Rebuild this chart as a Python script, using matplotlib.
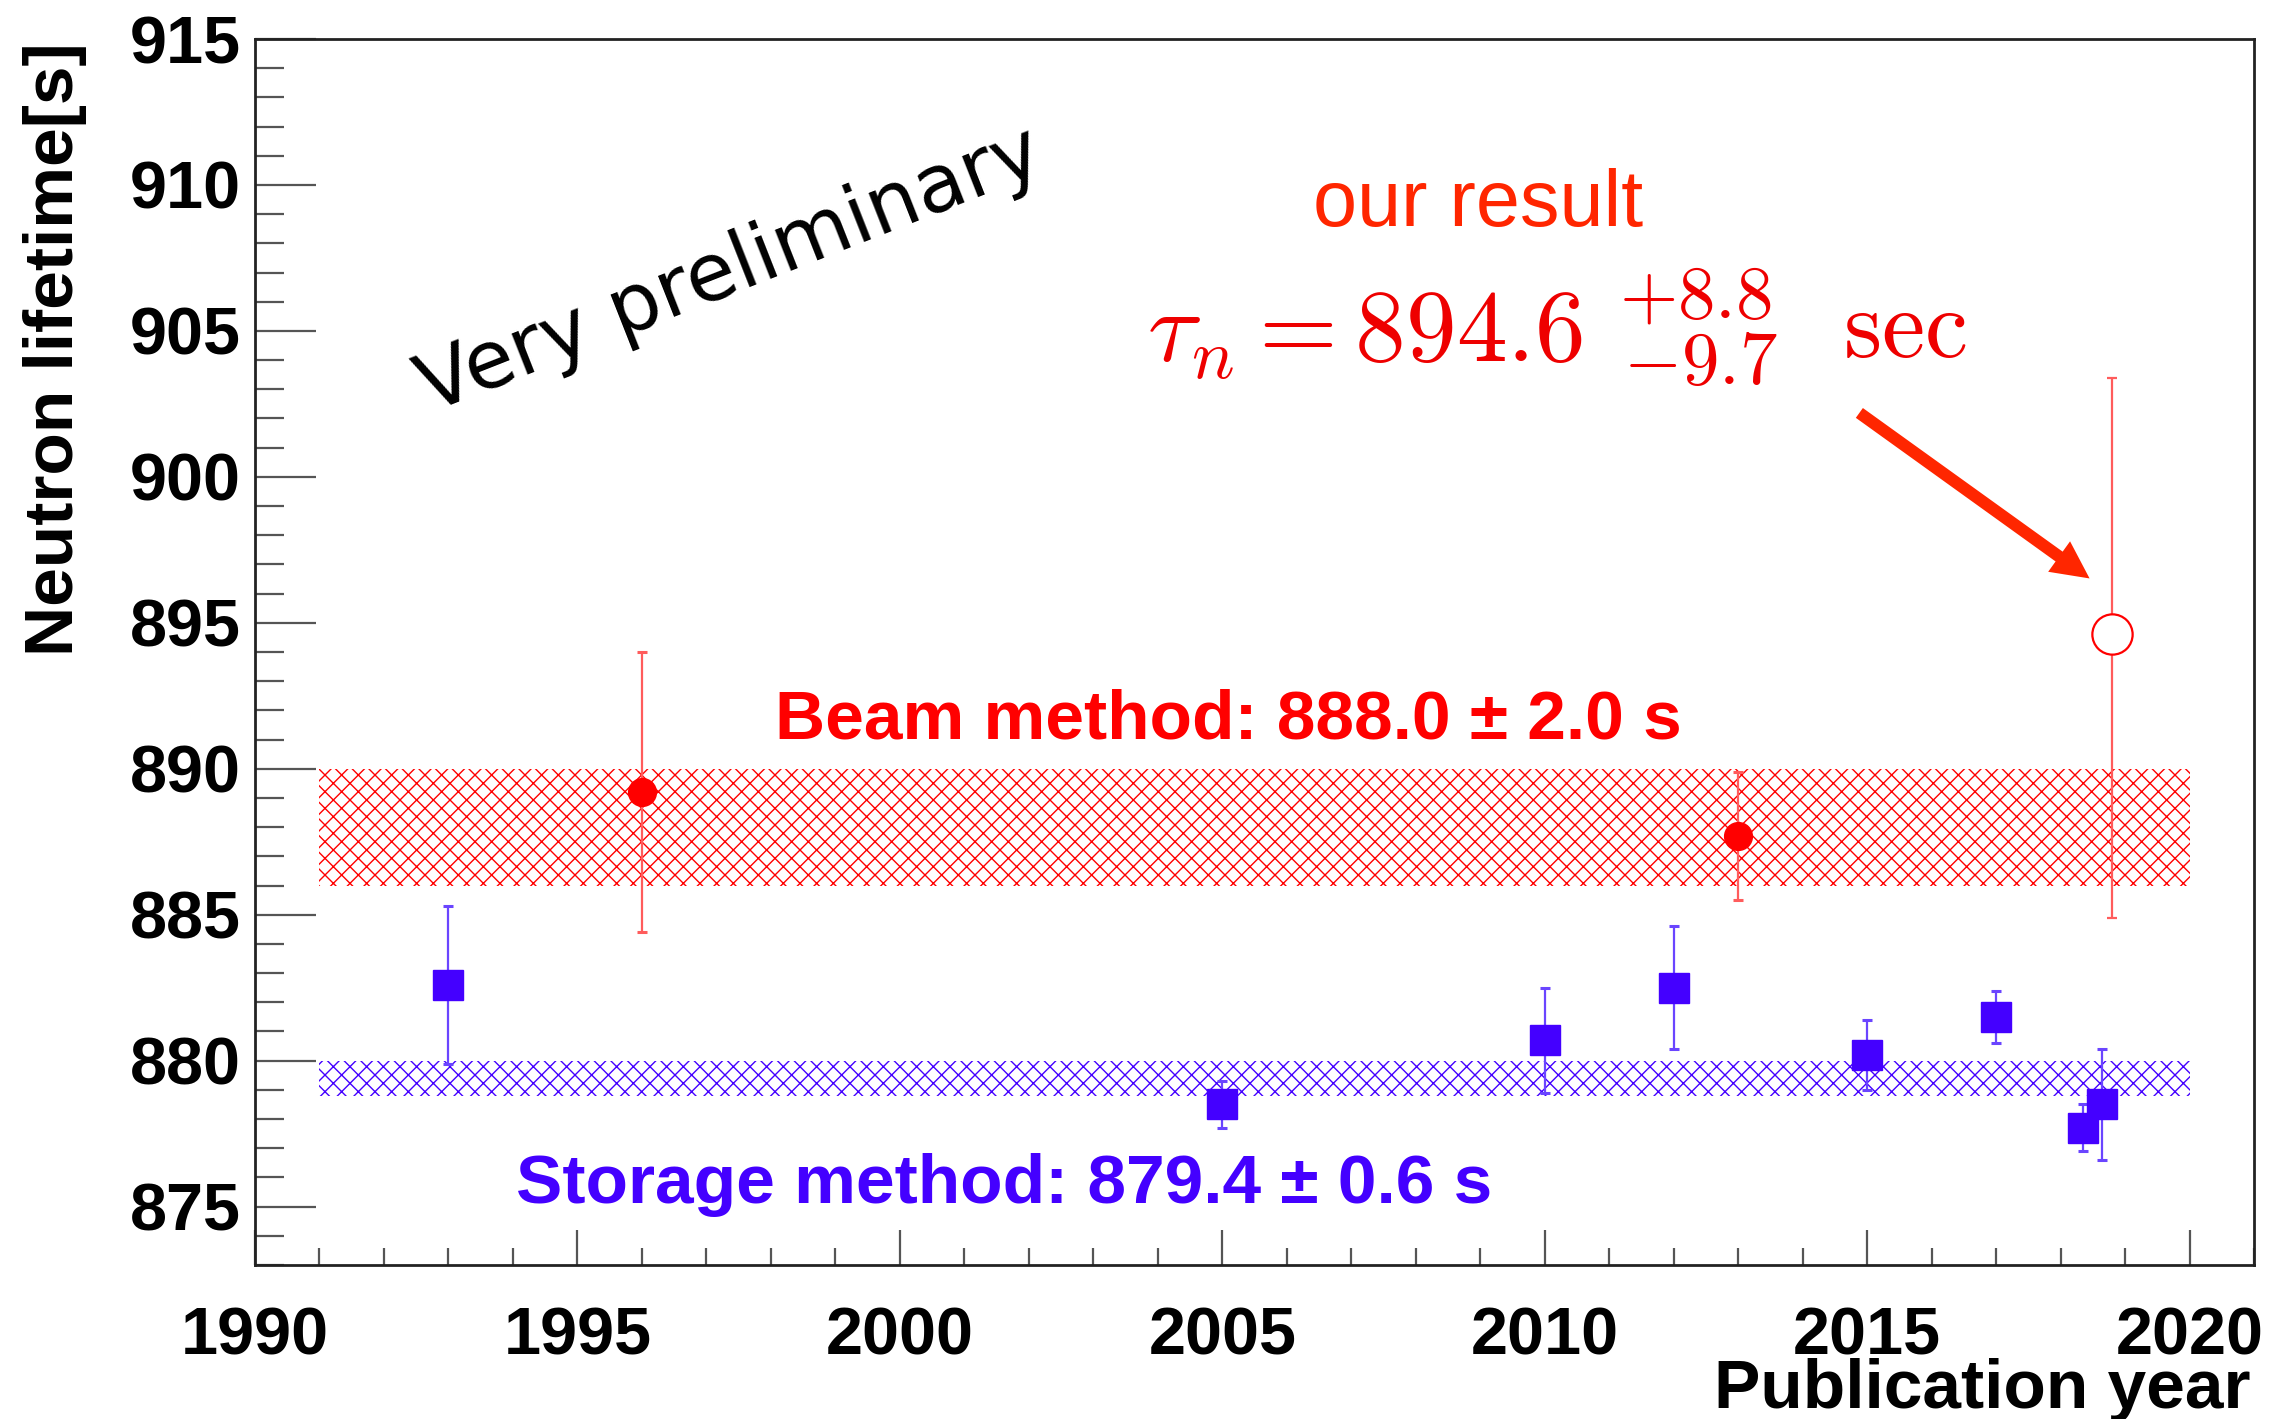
import matplotlib
matplotlib.use("Agg")
import matplotlib.pyplot as plt
from matplotlib.ticker import MultipleLocator

# storage method measurements
storage_year = [1993, 2005, 2010, 2012, 2015, 2017, 2018.35, 2018.65]
storage_tau = [882.6, 878.5, 880.7, 882.5, 880.2, 881.5, 877.7, 878.5]
storage_err = [2.7, 0.8, 1.8, 2.1, 1.2, 0.9, 0.8, 1.9]

# beam method measurements
beam_year = [1996, 2013]
beam_tau = [889.2, 887.7]
beam_err = [4.8, 2.2]

# this result
our_year = [2018.8]
our_tau = [894.6]
our_err_lo = [9.7]
our_err_hi = [8.8]

# world averages drawn as hatched bands
beam_avg, beam_avg_err = 888.0, 2.0
storage_avg, storage_avg_err = 879.4, 0.6
band_years = [1991, 2020]

RED = "#FF0000"
RED_ERR = "#FF5C5C"
BLUE = "#4400FF"
BLUE_ERR = "#6A45FF"
ORANGE = "#FF2600"
FORMULA = "#EE0000"
FONT = "Liberation Sans"

plt.rcParams["hatch.linewidth"] = 1.0
plt.rcParams["mathtext.fontset"] = "cm"

W, H = 2280, 1419
fig = plt.figure(figsize=(W / 100, H / 100), dpi=100)
ax = fig.add_axes([255 / W, 1 - 1265 / H, (2254 - 255) / W, (1265 - 39) / H])

# hatched bands
for avg, err, col in [(beam_avg, beam_avg_err, RED), (storage_avg, storage_avg_err, BLUE)]:
    ax.bar(band_years[0], 2 * err, width=band_years[1] - band_years[0], bottom=avg - err,
           align="edge", fill=False, hatch="xx", edgecolor=col, linewidth=0, zorder=1)

ax.errorbar(storage_year, storage_tau, yerr=storage_err, fmt="s", ms=21, mfc=BLUE, mec=BLUE,
            ecolor=BLUE_ERR, elinewidth=1.6, capsize=3.5, capthick=2.2, zorder=3)
ax.errorbar(beam_year, beam_tau, yerr=beam_err, fmt="o", ms=20, mfc=RED, mec=RED,
            ecolor=RED_ERR, elinewidth=1.6, capsize=3.5, capthick=2.2, zorder=3)
ax.errorbar(our_year, our_tau, yerr=[our_err_lo, our_err_hi], fmt="o", ms=29, mfc="white",
            mec=RED, mew=1.6, ecolor=RED_ERR, elinewidth=1.6, capsize=3.5, capthick=2.2, zorder=3)

ax.set_xlim(1990, 2021)
ax.set_ylim(873, 915)
ax.xaxis.set_major_locator(MultipleLocator(5))
ax.xaxis.set_minor_locator(MultipleLocator(1))
ax.yaxis.set_major_locator(MultipleLocator(5))
ax.yaxis.set_minor_locator(MultipleLocator(1))
ax.tick_params(which="both", direction="in", top=False, right=False, color="#555555", width=1.6)
ax.tick_params(axis="y", which="major", length=44, pad=10)
ax.tick_params(axis="y", which="minor", length=21)
ax.tick_params(axis="x", which="major", length=25, pad=30)
ax.tick_params(axis="x", which="minor", length=12)
for lab in ax.get_xticklabels() + ax.get_yticklabels():
    lab.set_fontfamily(FONT)
    lab.set_fontweight("bold")
    lab.set_fontsize(48)
for sp in ax.spines.values():
    sp.set_linewidth(2)
    sp.set_color("#222222")

# axis titles, ROOT style (aligned to the ends)
fig.text(55 / W, 1 - 42 / H, "Neutron lifetime[s]", rotation=90, ha="center", va="top",
         fontsize=50, fontweight="bold", family=FONT)
fig.text(2251 / W, 1 - 1408 / H, "Publication year", ha="right", va="baseline",
         fontsize=50, fontweight="bold", family=FONT)

# labels
ax.text(1998.07, 891.05, "Beam method: 888.0 \u00b1 2.0 s", color=RED, fontsize=50,
        fontweight="bold", family=FONT, ha="left", va="baseline")
ax.text(1994.04, 875.13, "Storage method: 879.4 \u00b1 0.6 s", color=BLUE, fontsize=50,
        fontweight="bold", family=FONT, ha="left", va="baseline")
ax.text(2006.41, 908.58, "our result", color=ORANGE, fontsize=57, family=FONT,
        ha="left", va="baseline")

# tau_n = 894.6 +8.8 -9.7 sec, pieced together
ax.text(2003.84, 903.96, r"$\tau_n = 894.6$", color=FORMULA, fontsize=73,
        ha="left", va="baseline")
ax.text(2011.16, 905.47, r"$+8.8$", color=FORMULA, fontsize=54, ha="left", va="baseline")
ax.text(2011.21, 903.18, r"$-9.7$", color=FORMULA, fontsize=54, ha="left", va="baseline")
ax.text(2014.63, 904.10, r"$\mathrm{sec}$", color=FORMULA, fontsize=70,
        ha="left", va="baseline")

fig.text(430 / W, 1 - 413 / H, "Very preliminary", rotation=21.5, rotation_mode="anchor",
         ha="left", va="baseline", fontsize=58, family="DejaVu Sans")

ax.annotate("", xy=(2018.45, 896.52), xytext=(2014.88, 902.19),
            arrowprops=dict(arrowstyle="simple,head_length=0.9,head_width=0.9,tail_width=0.29",
                            mutation_scale=30, facecolor=ORANGE, edgecolor="none",
                            shrinkA=0, shrinkB=0))

fig.savefig("out.png", dpi=100)
